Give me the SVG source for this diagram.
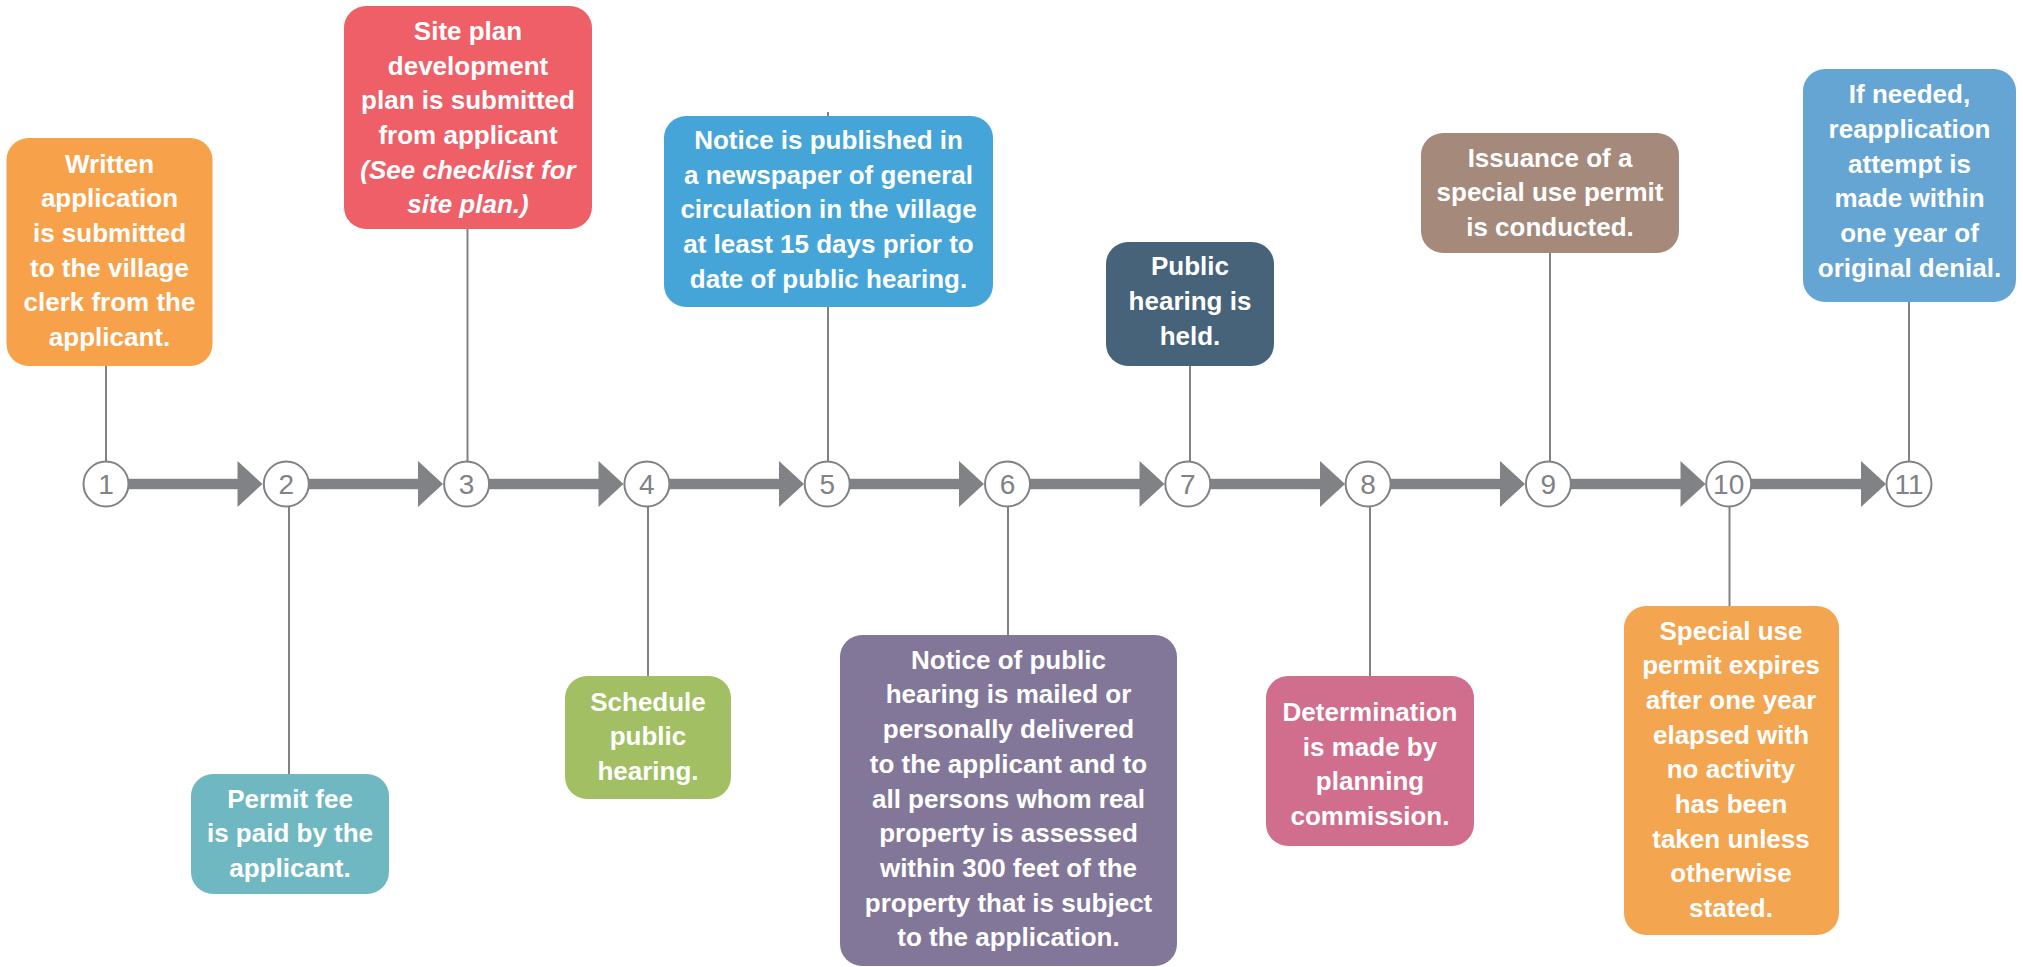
<svg xmlns="http://www.w3.org/2000/svg" width="2023" height="967" viewBox="0 0 2023 967">
<style>
.bg{fill:#ffffff}
.box text{font-family:"Liberation Sans",Arial,sans-serif;font-weight:bold;font-size:26px;fill:#ffffff;text-anchor:middle}
.it{font-style:italic}
.lead{stroke:#808285;stroke-width:2;fill:none}
.bar{fill:#808285}
.step circle{fill:#ffffff;stroke:#808285;stroke-width:2}
.step text{font-family:"Liberation Sans",Arial,sans-serif;font-size:28px;fill:#808285;text-anchor:middle}
</style>
<defs>
<path id="arrowhead" d="M0,-23 L25,0 L0,23 Z"/>
</defs>
<rect class="bg" x="0" y="0" width="2023" height="967"/>
<g id="connectors">
<line class="lead" x1="106" y1="366" x2="106" y2="462"/>
<line class="lead" x1="289" y1="506" x2="289" y2="775"/>
<line class="lead" x1="467.5" y1="228" x2="467.5" y2="462"/>
<line class="lead" x1="648" y1="506" x2="648" y2="677"/>
<line class="lead" x1="828" y1="112" x2="828" y2="462"/>
<line class="lead" x1="1008" y1="506" x2="1008" y2="636"/>
<line class="lead" x1="1190" y1="365" x2="1190" y2="462"/>
<line class="lead" x1="1370" y1="506" x2="1370" y2="677"/>
<line class="lead" x1="1550" y1="252" x2="1550" y2="462"/>
<line class="lead" x1="1729.5" y1="506" x2="1729.5" y2="607"/>
<line class="lead" x1="1909" y1="301" x2="1909" y2="462"/>
<rect class="bar" x="128" y="478.8" width="110" height="10.4"/><use href="#arrowhead" class="bar" x="237.5" y="484"/>
<rect class="bar" x="308" y="478.8" width="111" height="10.4"/><use href="#arrowhead" class="bar" x="418" y="484"/>
<rect class="bar" x="489" y="478.8" width="110" height="10.4"/><use href="#arrowhead" class="bar" x="598.5" y="484"/>
<rect class="bar" x="669" y="478.8" width="111" height="10.4"/><use href="#arrowhead" class="bar" x="779" y="484"/>
<rect class="bar" x="849" y="478.8" width="111" height="10.4"/><use href="#arrowhead" class="bar" x="959" y="484"/>
<rect class="bar" x="1030" y="478.8" width="110" height="10.4"/><use href="#arrowhead" class="bar" x="1139.5" y="484"/>
<rect class="bar" x="1210" y="478.8" width="111" height="10.4"/><use href="#arrowhead" class="bar" x="1320" y="484"/>
<rect class="bar" x="1390" y="478.8" width="111" height="10.4"/><use href="#arrowhead" class="bar" x="1500" y="484"/>
<rect class="bar" x="1571" y="478.8" width="110" height="10.4"/><use href="#arrowhead" class="bar" x="1680.5" y="484"/>
<rect class="bar" x="1751" y="478.8" width="111" height="10.4"/><use href="#arrowhead" class="bar" x="1861" y="484"/>
</g>
<g id="steps">
<g class="step" id="s1"><circle cx="106" cy="484" r="22.5"/><text x="106" y="494">1</text></g>
<g class="step" id="s2"><circle cx="286.3" cy="484" r="22.5"/><text x="286.3" y="494">2</text></g>
<g class="step" id="s3"><circle cx="466.6" cy="484" r="22.5"/><text x="466.6" y="494">3</text></g>
<g class="step" id="s4"><circle cx="646.9" cy="484" r="22.5"/><text x="646.9" y="494">4</text></g>
<g class="step" id="s5"><circle cx="827.2" cy="484" r="22.5"/><text x="827.2" y="494">5</text></g>
<g class="step" id="s6"><circle cx="1007.5" cy="484" r="22.5"/><text x="1007.5" y="494">6</text></g>
<g class="step" id="s7"><circle cx="1187.8" cy="484" r="22.5"/><text x="1187.8" y="494">7</text></g>
<g class="step" id="s8"><circle cx="1368.1" cy="484" r="22.5"/><text x="1368.1" y="494">8</text></g>
<g class="step" id="s9"><circle cx="1548.4" cy="484" r="22.5"/><text x="1548.4" y="494">9</text></g>
<g class="step" id="s10"><circle cx="1728.7" cy="484" r="22.5"/><text x="1728.7" y="494">10</text></g>
<g class="step" id="s11"><circle cx="1909" cy="484" r="22.5"/><text x="1909" y="494">11</text></g>
</g>
<g class="box" id="box1">
<rect x="6.5" y="138" width="206" height="228" rx="22" fill="#F7A24B"/>
<text><tspan x="109.5" y="172.7">Written</tspan><tspan x="109.5" y="207.4">application</tspan><tspan x="109.5" y="242">is submitted</tspan><tspan x="109.5" y="276.7">to the village</tspan><tspan x="109.5" y="311.4">clerk from the</tspan><tspan x="109.5" y="346">applicant.</tspan></text>
</g>
<g class="box" id="box2">
<rect x="191" y="774" width="198" height="120" rx="22" fill="#70B8C1"/>
<text><tspan x="290" y="807.7">Permit fee</tspan><tspan x="290" y="842.4">is paid by the</tspan><tspan x="290" y="877">applicant.</tspan></text>
</g>
<g class="box" id="box3">
<rect x="344" y="6" width="248" height="223" rx="22" fill="#EF5F67"/>
<text><tspan x="468" y="40">Site plan</tspan><tspan x="468" y="74.7">development</tspan><tspan x="468" y="109.4">plan is submitted</tspan><tspan x="468" y="144">from applicant</tspan><tspan class="it" x="468" y="178.7">(See checklist for</tspan><tspan class="it" x="468" y="213.4">site plan.)</tspan></text>
</g>
<g class="box" id="box4">
<rect x="565" y="676" width="166" height="123" rx="22" fill="#A2BF63"/>
<text><tspan x="648" y="711">Schedule</tspan><tspan x="648" y="745.3">public</tspan><tspan x="648" y="779.6">hearing.</tspan></text>
</g>
<g class="box" id="box5">
<rect x="664" y="116" width="329" height="191" rx="22" fill="#45A5D8"/>
<text><tspan x="828.5" y="149">Notice is published in</tspan><tspan x="828.5" y="183.7">a newspaper of general</tspan><tspan x="828.5" y="218.4">circulation in the village</tspan><tspan x="828.5" y="253">at least 15 days prior to</tspan><tspan x="828.5" y="287.7">date of public hearing.</tspan></text>
</g>
<g class="box" id="box6">
<rect x="840" y="635" width="337" height="331" rx="22" fill="#827799"/>
<text><tspan x="1008.5" y="668.7">Notice of public</tspan><tspan x="1008.5" y="703.4">hearing is mailed or</tspan><tspan x="1008.5" y="738.1">personally delivered</tspan><tspan x="1008.5" y="772.8">to the applicant and to</tspan><tspan x="1008.5" y="807.5">all persons whom real</tspan><tspan x="1008.5" y="842.2">property is assessed</tspan><tspan x="1008.5" y="876.9">within 300 feet of the</tspan><tspan x="1008.5" y="911.6">property that is subject</tspan><tspan x="1008.5" y="946.3">to the application.</tspan></text>
</g>
<g class="box" id="box7">
<rect x="1106" y="242" width="168" height="124" rx="22" fill="#46637A"/>
<text><tspan x="1190" y="275.3">Public</tspan><tspan x="1190" y="310">hearing is</tspan><tspan x="1190" y="344.6">held.</tspan></text>
</g>
<g class="box" id="box8">
<rect x="1266" y="676" width="208" height="170" rx="22" fill="#D16E8D"/>
<text><tspan x="1370" y="721">Determination</tspan><tspan x="1370" y="755.7">is made by</tspan><tspan x="1370" y="790.4">planning</tspan><tspan x="1370" y="825.1">commission.</tspan></text>
</g>
<g class="box" id="box9">
<rect x="1421" y="133" width="258" height="120" rx="22" fill="#A58A7B"/>
<text><tspan x="1550" y="166.7">Issuance of a</tspan><tspan x="1550" y="201.2">special use permit</tspan><tspan x="1550" y="235.6">is conducted.</tspan></text>
</g>
<g class="box" id="box10">
<rect x="1624" y="606" width="215" height="329" rx="22" fill="#F3A550"/>
<text><tspan x="1731" y="639.7">Special use</tspan><tspan x="1731" y="674.4">permit expires</tspan><tspan x="1731" y="709">after one year</tspan><tspan x="1731" y="743.7">elapsed with</tspan><tspan x="1731" y="778.4">no activity</tspan><tspan x="1731" y="813">has been</tspan><tspan x="1731" y="847.7">taken unless</tspan><tspan x="1731" y="882.4">otherwise</tspan><tspan x="1731" y="917">stated.</tspan></text>
</g>
<g class="box" id="box11">
<rect x="1803" y="69" width="213" height="233" rx="22" fill="#64A5D3"/>
<text><tspan x="1909.5" y="103.3">If needed,</tspan><tspan x="1909.5" y="138">reapplication</tspan><tspan x="1909.5" y="172.6">attempt is</tspan><tspan x="1909.5" y="207.3">made within</tspan><tspan x="1909.5" y="242">one year of</tspan><tspan x="1909.5" y="276.6">original denial.</tspan></text>
</g>
</svg>
